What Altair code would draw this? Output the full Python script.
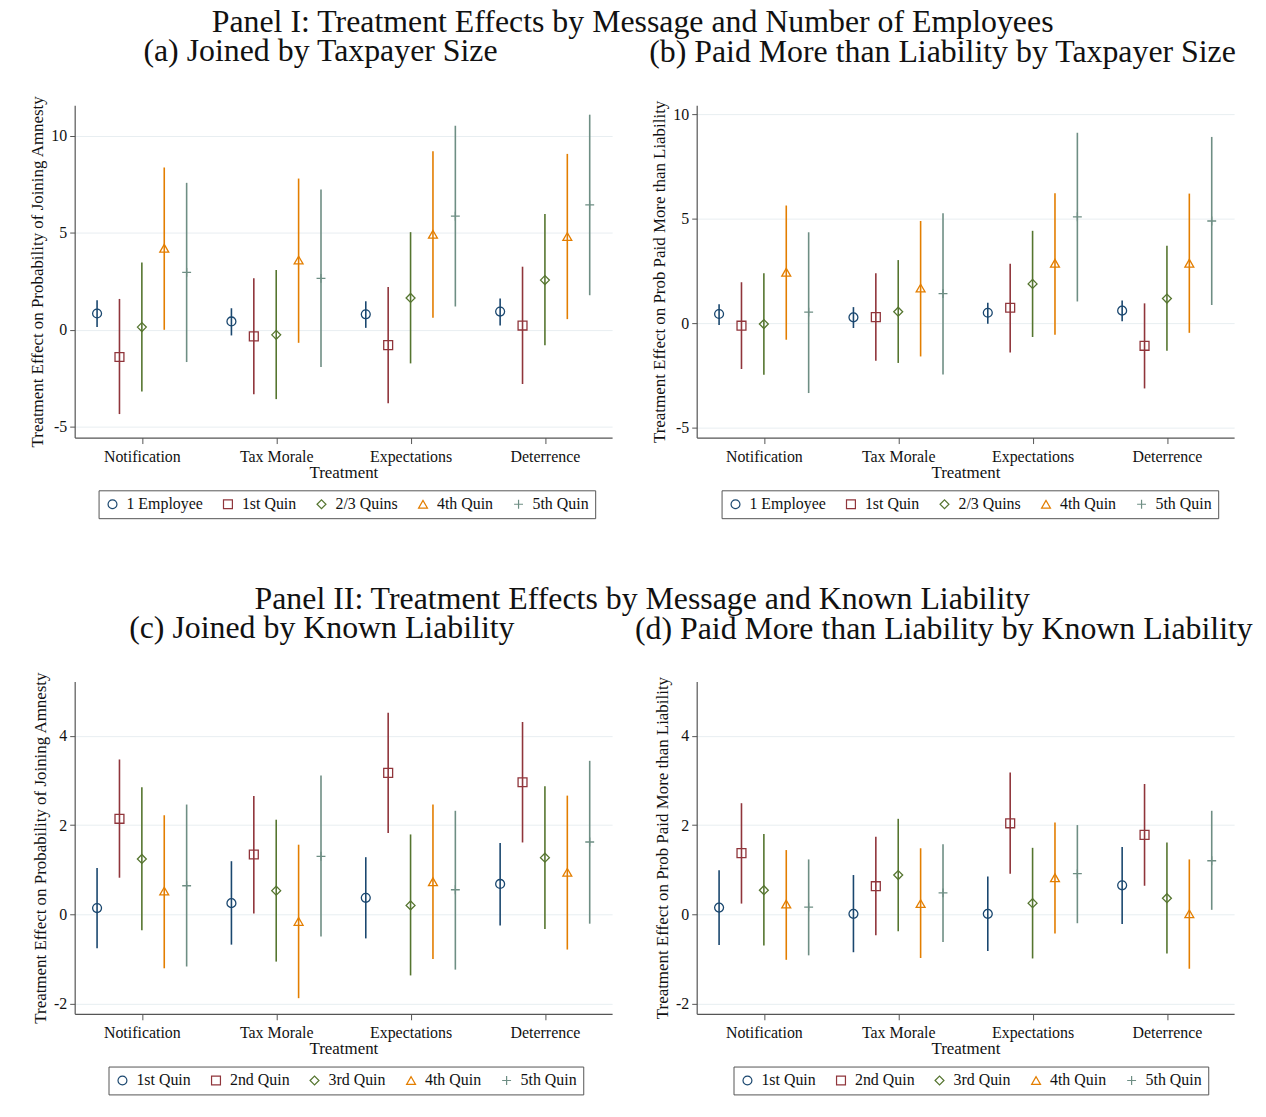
import json
import altair as alt
import pandas as pd

FONT = "Liberation Serif"

categories = ["Notification", "Tax Morale", "Expectations", "Deterrence"]
groups_size = ["1 Employee", "1st Quin", "2/3 Quins", "4th Quin", "5th Quin"]
groups_liab = ["1st Quin", "2nd Quin", "3rd Quin", "4th Quin", "5th Quin"]

colors = ["#1a476f", "#90353b", "#55752f", "#e37e00", "#6e8e84"]
plus_path = "M-1,0H1M0,-1V1"
shapes = ["circle", "square", "diamond", "triangle-up", plus_path]
marker_sizes = [80, 80, 120, 100, 120]

# Panel (a): Joined by taxpayer size  (rows = categories, columns = groups)
a_est = [[0.84, -1.40, 0.14, 4.20, 2.96],
         [0.43, -0.34, -0.26, 3.59, 2.65],
         [0.80, -0.79, 1.64, 4.92, 5.85],
         [0.94, 0.22, 2.56, 4.80, 6.43]]
a_lo = [[0.14, -4.34, -3.18, 0.00, -1.66],
        [-0.29, -3.32, -3.57, -0.67, -1.91],
        [0.10, -3.78, -1.73, 0.62, 1.20],
        [0.22, -2.79, -0.80, 0.55, 1.78]]
a_hi = [[1.52, 1.59, 3.47, 8.36, 7.57],
        [1.11, 2.65, 3.08, 7.79, 7.23],
        [1.47, 2.21, 5.03, 9.20, 10.51],
        [1.61, 3.25, 5.97, 9.06, 11.08]]

# Panel (b): Paid more than liability by taxpayer size
b_est = [[0.45, -0.11, -0.03, 2.45, 0.54],
         [0.29, 0.30, 0.56, 1.69, 1.43],
         [0.51, 0.75, 1.89, 2.88, 5.10],
         [0.61, -1.07, 1.19, 2.88, 4.90]]
b_lo = [[-0.08, -2.18, -2.45, -0.78, -3.33],
        [-0.22, -1.78, -1.89, -1.58, -2.44],
        [-0.02, -1.39, -0.65, -0.54, 1.05],
        [0.10, -3.11, -1.31, -0.45, 0.88]]
b_hi = [[0.92, 1.97, 2.40, 5.64, 4.36],
        [0.78, 2.40, 3.03, 4.90, 5.27],
        [0.99, 2.85, 4.43, 6.23, 9.12],
        [1.10, 0.96, 3.71, 6.21, 8.92]]

# Panel (c): Joined by known liability
c_est = [[0.14, 2.14, 1.24, 0.52, 0.64],
         [0.25, 1.34, 0.53, -0.16, 1.30],
         [0.37, 3.17, 0.20, 0.73, 0.55],
         [0.68, 2.96, 1.27, 0.94, 1.62]]
c_lo = [[-0.76, 0.82, -0.36, -1.21, -1.17],
        [-0.68, 0.02, -1.06, -1.88, -0.50],
        [-0.54, 1.82, -1.37, -1.00, -1.24],
        [-0.25, 1.61, -0.33, -0.79, -0.21]]
c_hi = [[1.04, 3.47, 2.85, 2.22, 2.46],
        [1.19, 2.65, 2.12, 1.56, 3.11],
        [1.28, 4.52, 1.79, 2.46, 2.32],
        [1.60, 4.31, 2.87, 2.66, 3.44]]

# Panel (d): Paid more than liability by known liability
d_est = [[0.15, 1.37, 0.54, 0.23, 0.16],
         [0.01, 0.63, 0.88, 0.24, 0.48],
         [0.01, 2.04, 0.25, 0.82, 0.91],
         [0.65, 1.78, 0.36, 0.01, 1.20]]
d_lo = [[-0.69, 0.24, -0.70, -1.02, -0.92],
        [-0.85, -0.47, -0.38, -0.98, -0.62],
        [-0.82, 0.91, -0.99, -0.43, -0.20],
        [-0.22, 0.64, -0.88, -1.22, 0.10]]
d_hi = [[0.99, 2.49, 1.80, 1.44, 1.23],
        [0.88, 1.74, 2.14, 1.48, 1.57],
        [0.85, 3.18, 1.49, 2.06, 2.00],
        [1.51, 2.92, 1.61, 1.23, 2.32]]

label_expr = json.dumps([""] + categories) + "[datum.value]"


def panel(est, lo, hi, groups, ytitle, ydomain, yticks, title, legend_x, title_offset):
    rows = []
    for ci, cat in enumerate(categories):
        for gi, g in enumerate(groups):
            rows.append({"x": ci + 1 + (gi - 2) / 6.0, "group": g, "col": colors[gi],
                         "est": est[ci][gi], "lo": lo[ci][gi], "hi": hi[ci][gi]})
    df = pd.DataFrame(rows)

    xenc = alt.X("x:Q",
                 scale=alt.Scale(domain=[0.5, 4.5], nice=False, zero=False),
                 axis=alt.Axis(values=[1, 2, 3, 4], labelExpr=label_expr, title="Treatment",
                               grid=False, tickSize=6, labelPadding=5, titlePadding=0,
                               labelFlush=False, labelOverlap=False))
    yscale = alt.Scale(domain=ydomain, nice=False, zero=False)
    yaxis = alt.Axis(values=yticks, title=ytitle, grid=True, tickSize=5, labelPadding=3,
                     titlePadding=4, labelAngle=0, labelExpr="'' + datum.value")
    legend = alt.Legend(title=None, orient="none", legendX=legend_x, legendY=387,
                        direction="horizontal", columns=5, strokeColor="#555555",
                        fillColor="white", padding=6, labelFont=FONT, labelFontSize=16,
                        labelColor="#111111", symbolSize=42, symbolStrokeWidth=1.2,
                        columnPadding=17, labelOffset=6)
    rules = alt.Chart(df).mark_rule(strokeWidth=1.6).encode(
        x=xenc,
        y=alt.Y("lo:Q", scale=yscale, axis=yaxis),
        y2="hi:Q",
        color=alt.Color("col:N", scale=None),
    )
    pts = alt.Chart(df).mark_point(filled=False, strokeWidth=1.3, opacity=1).encode(
        x=xenc,
        y=alt.Y("est:Q", scale=yscale, axis=yaxis),
        color=alt.Color("group:N", scale=alt.Scale(domain=groups, range=colors), legend=legend),
        shape=alt.Shape("group:N", scale=alt.Scale(domain=groups, range=shapes), legend=legend),
        size=alt.Size("group:N", scale=alt.Scale(domain=groups, range=marker_sizes), legend=None),
    )
    return alt.layer(rules, pts).properties(
        width=540, height=334,
        title=alt.TitleParams(title, font=FONT, fontSize=32, fontWeight="normal",
                              anchor="middle", frame="bounds", offset=title_offset,
                              color="#111111", baseline="alphabetic"),
    )


pa = panel(a_est, a_lo, a_hi, groups_size, "Treatment Effect on Probability of Joining Amnesty",
           [-5.55, 11.57], [-5, 0, 5, 10], "(a) Joined by Taxpayer Size", 24, 2)
pb = panel(b_est, b_lo, b_hi, groups_size, "Treatment Effect on Prob Paid More than Liability",
           [-5.46, 10.44], [-5, 0, 5, 10], "(b) Paid More than Liability by Taxpayer Size", 25, 6)
pc = panel(c_est, c_lo, c_hi, groups_liab, "Treatment Effect on Probability of Joining Amnesty",
           [-2.23, 5.22], [-2, 0, 2, 4], "(c) Joined by Known Liability", 34, 2)
pd_ = panel(d_est, d_lo, d_hi, groups_liab, "Treatment Effect on Prob Paid More than Liability",
            [-2.23, 5.22], [-2, 0, 2, 4], "(d) Paid More than Liability by Known Liability", 37, 6)


def row_title(text):
    return alt.TitleParams(text, font=FONT, fontSize=32, fontWeight="normal", anchor="middle",
                           frame="bounds", offset=-29, color="#111111", baseline="alphabetic")


row1 = alt.hconcat(pa, pb, spacing=85, bounds="flush",
                   title=row_title("Panel I: Treatment Effects by Message and Number of Employees")
                   ).resolve_scale(color="independent", shape="independent", size="independent")
row2 = alt.hconcat(pc, pd_, spacing=85, bounds="flush",
                   title=row_title("Panel II: Treatment Effects by Message and Known Liability")
                   ).resolve_scale(color="independent", shape="independent", size="independent")

chart = alt.vconcat(row1, row2, spacing=63).configure(
    padding={"left": 21, "top": -5, "right": 5, "bottom": 5},
    background="white",
).configure_view(stroke=None).configure_axis(
    labelFont=FONT, titleFont=FONT, labelFontSize=16, titleFontSize=17,
    titleFontWeight="normal", labelColor="#111111", titleColor="#111111",
    domainColor="#555555", tickColor="#555555", gridColor="#e8eef1", domainWidth=1.2,
)

chart.save("out.html", embed_options={"renderer": "svg", "actions": False})
